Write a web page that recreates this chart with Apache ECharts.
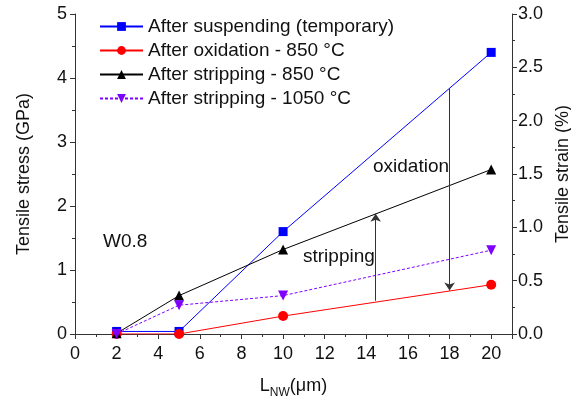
<!DOCTYPE html>
<html>
<head>
<meta charset="utf-8">
<script src="https://cdn.jsdelivr.net/npm/echarts@6/dist/echarts.min.js"></script>
<style>html,body{margin:0;padding:0;background:#fff}#c{width:571px;height:405px}</style>
</head>
<body>
<div id="c"></div>
<script>
// Data
const lengths = [2, 5, 10, 20];
const suspending = [0.04, 0.04, 1.6, 4.4];
const oxidation850 = [0.0, 0.0, 0.28, 0.77];
const stripping850 = [0.01, 0.6, 1.32, 2.57];
const stripping1050 = [0.0, 0.45, 0.6, 1.31];
const seriesNames = ['After suspending (temporary)', 'After oxidation - 850 °C', 'After stripping - 850 °C', 'After stripping - 1050 °C'];
// annotation arrows (x, from, to) in data units
const strippingArrow = [14.45, 0.52, 1.88];
const oxidationArrow = [18, 3.84, 0.68];

const FONT = 'Liberation Sans, Arial, sans-serif';
const pairs = (ys) => lengths.map((x, i) => [x, ys[i]]);

const chart = echarts.init(document.getElementById('c'), null, {renderer: 'canvas'});
const arrowLine = (a) => ({
  silent: true,
  symbol: ['none', 'arrow'],
  symbolSize: 8,
  label: {show: false},
  lineStyle: {color: '#333', width: 1, type: 'solid'},
  emphasis: {disabled: true},
  animation: false,
  data: [[{coord: [a[0], a[1]]}, {coord: [a[0], a[2]]}]]
});

chart.setOption({
  animation: false,
  backgroundColor: '#fff',
  textStyle: {fontFamily: FONT},
  grid: {left: 75, right: 59, top: 14, bottom: 71, containLabel: false, outerBoundsMode: 'none'},
  legend: {
    orient: 'vertical', left: 99, top: 17, padding: 0,
    itemWidth: 43, itemHeight: 11, itemGap: 5,
    textStyle: {fontSize: 19, lineHeight: 19, color: '#111', fontFamily: FONT},
    data: seriesNames
  },
  xAxis: {
    type: 'value', min: 0, max: 21, interval: 2,
    name: 'L{sub|NW}(μm)', nameLocation: 'middle', nameGap: 39,
    nameTextStyle: {fontSize: 18, color: '#111', fontFamily: FONT,
      rich: {sub: {fontSize: 12, verticalAlign: 'bottom', padding: [14, 0, 0, 0], fontFamily: FONT, color: '#111'}}},
    axisLine: {lineStyle: {color: '#333', width: 1}},
    axisTick: {show: true, inside: false, length: 5, lineStyle: {color: '#333'}},
    minorTick: {show: true, splitNumber: 2, length: 3, lineStyle: {color: '#333'}},
    axisLabel: {fontSize: 18, color: '#111', margin: 11, fontFamily: FONT,
      formatter: v => (v > 20 ? '' : String(v))},
    splitLine: {show: false}
  },
  yAxis: [{
    type: 'value', min: 0, max: 5, interval: 1, position: 'left',
    name: 'Tensile stress (GPa)', nameLocation: 'middle', nameGap: 42,
    nameTextStyle: {fontSize: 18, color: '#111', fontFamily: FONT},
    axisLine: {show: true, lineStyle: {color: '#333', width: 1}},
    axisTick: {show: true, inside: false, length: 5, lineStyle: {color: '#333'}},
    minorTick: {show: true, splitNumber: 2, length: 3, lineStyle: {color: '#333'}},
    axisLabel: {fontSize: 18, color: '#111', margin: 8, fontFamily: FONT},
    splitLine: {show: false}
  }, {
    type: 'value', min: 0, max: 3, interval: 0.5, position: 'right',
    name: 'Tensile strain (%)', nameLocation: 'middle', nameGap: 42, nameRotate: 90,
    nameTextStyle: {fontSize: 18, color: '#111', fontFamily: FONT},
    axisLine: {show: true, lineStyle: {color: '#333', width: 1}},
    axisTick: {show: true, inside: false, length: 5, lineStyle: {color: '#333'}},
    minorTick: {show: true, splitNumber: 2, length: 3, lineStyle: {color: '#333'}},
    axisLabel: {fontSize: 18, color: '#111', margin: 6, fontFamily: FONT, formatter: v => v.toFixed(1)},
    splitLine: {show: false}
  }],
  series: [{
    name: seriesNames[0], type: 'line', yAxisIndex: 0, data: pairs(suspending),
    symbol: 'rect', symbolSize: 9, color: '#0000ff',
    lineStyle: {color: '#0000ff', width: 1}, itemStyle: {color: '#0000ff'},
    markLine: arrowLine(oxidationArrow)
  }, {
    name: seriesNames[1], type: 'line', yAxisIndex: 0, data: pairs(oxidation850),
    symbol: 'circle', symbolSize: 10, color: '#ff0000',
    lineStyle: {color: '#ff0000', width: 1}, itemStyle: {color: '#ff0000'}
  }, {
    name: seriesNames[2], type: 'line', yAxisIndex: 0, data: pairs(stripping850),
    symbol: 'triangle', symbolSize: 10, color: '#000000',
    lineStyle: {color: '#000000', width: 1}, itemStyle: {color: '#000000'},
    markLine: arrowLine(strippingArrow)
  }, {
    name: seriesNames[3], type: 'line', yAxisIndex: 0, data: pairs(stripping1050),
    symbol: 'triangle', symbolRotate: 180, symbolSize: 10, color: '#8000ff',
    lineStyle: {color: '#8000ff', width: 1, type: [3, 2]}, itemStyle: {color: '#8000ff'}
  }],
  graphic: [
    {type: 'text', left: 373, top: 157, style: {text: 'oxidation', font: '19px ' + FONT, fill: '#111'}},
    {type: 'text', left: 303, top: 247, style: {text: 'stripping', font: '19px ' + FONT, fill: '#111'}},
    {type: 'text', left: 103, top: 232, style: {text: 'W0.8', font: '19px ' + FONT, fill: '#111'}}
  ]
});
</script>
</body>
</html>
